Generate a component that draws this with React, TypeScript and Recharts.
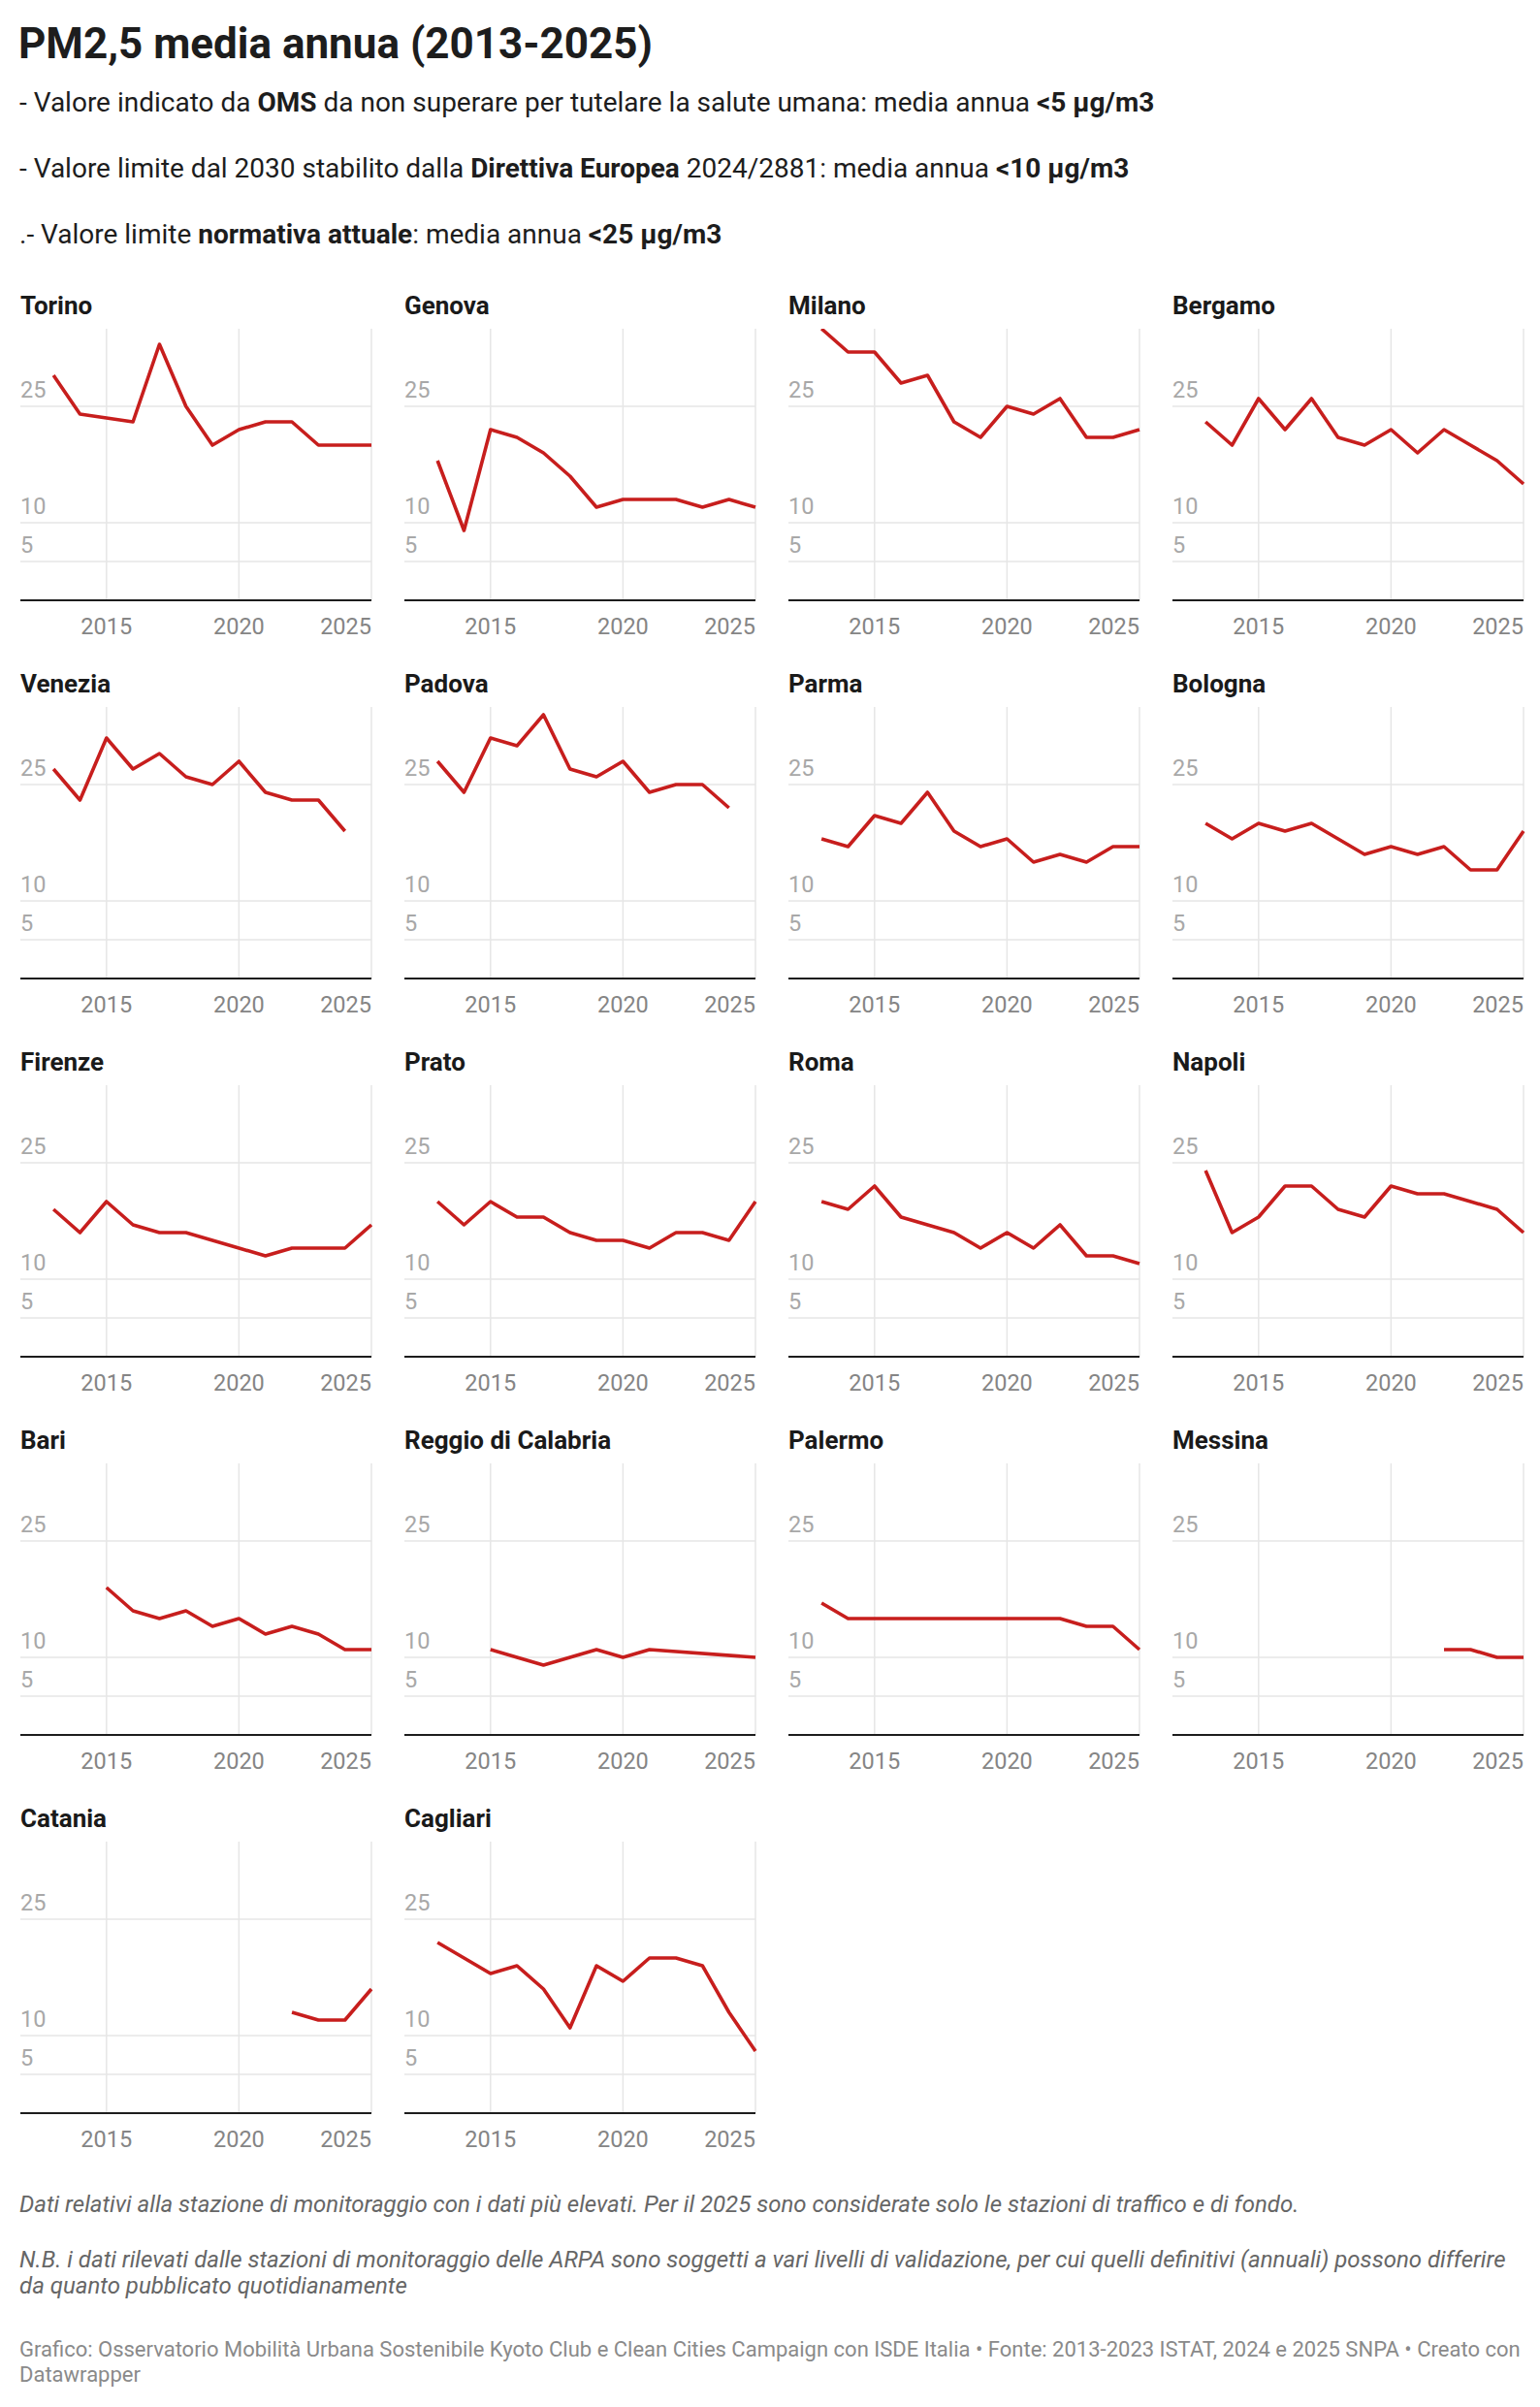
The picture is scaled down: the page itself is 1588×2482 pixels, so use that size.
import { CartesianGrid, Line, LineChart, XAxis, YAxis } from "recharts"

// PM2.5 annual mean per city, µg/m3 (null = no data that year)
const years = [2013, 2014, 2015, 2016, 2017, 2018, 2019, 2020, 2021, 2022, 2023, 2024, 2025]

const torino = [29, 24, 23.5, 23, 33, 25, 20, 22, 23, 23, 20, 20, 20]
const genova = [18, 9, 22, 21, 19, 16, 12, 13, 13, 13, 12, 13, 12]
const milano = [35, 32, 32, 28, 29, 23, 21, 25, 24, 26, 21, 21, 22]
const bergamo = [23, 20, 26, 22, 26, 21, 20, 22, 19, 22, 20, 18, 15]
const venezia = [27, 23, 31, 27, 29, 26, 25, 28, 24, 23, 23, 19, null]
const padova = [28, 24, 31, 30, 34, 27, 26, 28, 24, 25, 25, 22, null]
const parma = [18, 17, 21, 20, 24, 19, 17, 18, 15, 16, 15, 17, 17]
const bologna = [20, 18, 20, 19, 20, 18, 16, 17, 16, 17, 14, 14, 19]
const firenze = [19, 16, 20, 17, 16, 16, 15, 14, 13, 14, 14, 14, 17]
const prato = [20, 17, 20, 18, 18, 16, 15, 15, 14, 16, 16, 15, 20]
const roma = [20, 19, 22, 18, 17, 16, 14, 16, 14, 17, 13, 13, 12]
const napoli = [24, 16, 18, 22, 22, 19, 18, 22, 21, 21, 20, 19, 16]
const bari = [null, null, 19, 16, 15, 16, 14, 15, 13, 14, 13, 11, 11]
const reggioCalabria = [null, null, 11, 10, 9, 10, 11, 10, 11, null, null, null, 10]
const palermo = [17, 15, 15, 15, 15, 15, 15, 15, 15, 15, 14, 14, 11]
const messina = [null, null, null, null, null, null, null, null, null, 11, 11, 10, 10]
const catania = [null, null, null, null, null, null, null, null, null, 13, 12, 12, 16]
const cagliari = [22, 20, 18, 19, 16, 11, 19, 17, 20, 20, 19, 13, 8]

const cities: [string, (number | null)[]][] = [
  ["Torino", torino],
  ["Genova", genova],
  ["Milano", milano],
  ["Bergamo", bergamo],
  ["Venezia", venezia],
  ["Padova", padova],
  ["Parma", parma],
  ["Bologna", bologna],
  ["Firenze", firenze],
  ["Prato", prato],
  ["Roma", roma],
  ["Napoli", napoli],
  ["Bari", bari],
  ["Reggio di Calabria", reggioCalabria],
  ["Palermo", palermo],
  ["Messina", messina],
  ["Catania", catania],
  ["Cagliari", cagliari],
]

const xTicks = [2015, 2020, 2025]
const yTicks = [5, 10, 25]

const FONT = "Roboto, 'Noto Sans', sans-serif"
const RED = "#c71e1d"
const PLOT_W = 362
const PLOT_H = 280
const CHART_W = 396
const X_AXIS_H = 60
const Y_AXIS_W = 40
const COL_LEFT = 21
const COL_PITCH = 396
const FIRST_BASELINE = 619
const ROW_PITCH = 390

function XTick({ x, payload }: any) {
  const last = payload.value === 2025
  return (
    <text
      x={x}
      y={PLOT_H + 35}
      textAnchor={last ? "end" : "middle"}
      fill="#858585"
      fontSize={23.5}
      fontFamily={FONT}
    >
      {payload.value}
    </text>
  )
}

function YTick({ y, payload }: any) {
  return (
    <text x={0} y={y - 9} textAnchor="start" fill="#a8a8a8" fontSize={23.5} fontFamily={FONT}>
      {payload.value}
    </text>
  )
}

function Panel({ name, values, index }: { name: string; values: (number | null)[]; index: number }) {
  const col = index % 4
  const row = Math.floor(index / 4)
  const left = COL_LEFT + col * COL_PITCH
  const baseline = FIRST_BASELINE + row * ROW_PITCH
  const data = years.map((year, i) => ({ year, value: values[i] }))

  return (
    <>
      <div
        style={{
          position: "absolute",
          left,
          top: baseline - 317,
          fontSize: 26,
          lineHeight: "26px",
          fontWeight: 700,
          color: "#1a1a1a",
          whiteSpace: "nowrap",
        }}
      >
        {name}
      </div>
      <div style={{ position: "absolute", left, top: baseline - PLOT_H }}>
        <LineChart
          width={CHART_W}
          height={PLOT_H + X_AXIS_H}
          data={data}
          margin={{ top: 0, right: CHART_W - PLOT_W, bottom: 0, left: -Y_AXIS_W }}
          style={{ overflow: "visible" }}
        >
          <CartesianGrid stroke="#e6e6e6" strokeWidth={1.5} syncWithTicks />
          <XAxis
            dataKey="year"
            type="number"
            domain={[2011.75, 2025]}
            ticks={xTicks}
            interval={0}
            height={X_AXIS_H}
            tickSize={0}
            tickMargin={0}
            tickLine={false}
            axisLine={{ stroke: "#1d1d1d", strokeWidth: 2 }}
            tick={<XTick />}
          />
          <YAxis
            type="number"
            domain={[0, 35]}
            ticks={yTicks}
            interval={0}
            width={Y_AXIS_W}
            axisLine={false}
            tickLine={false}
            tick={<YTick />}
          />
          <Line
            type="linear"
            dataKey="value"
            stroke={RED}
            strokeWidth={3.6}
            strokeLinejoin="round"
            dot={false}
            activeDot={false}
            connectNulls
            isAnimationActive={false}
          />
        </LineChart>
      </div>
    </>
  )
}

const sub = { position: "absolute", left: 20, fontSize: 28, lineHeight: "28px", whiteSpace: "nowrap" } as const

export default function App() {
  return (
    <div
      style={{
        position: "relative",
        width: 1588,
        height: 2482,
        background: "#fff",
        fontFamily: FONT,
        color: "#1d1d1d",
      }}
    >
      <style>{"body{margin:0}"}</style>
      <div
        style={{
          position: "absolute",
          left: 19,
          top: 23,
          fontSize: 44,
          lineHeight: "44px",
          fontWeight: 700,
          whiteSpace: "nowrap",
        }}
      >
        PM2,5 media annua (2013-2025)
      </div>
      <div style={{ ...sub, top: 92 }}>
        - Valore indicato da <b>OMS</b> da non superare per tutelare la salute umana: media annua <b>&lt;5 µg/m3</b>
      </div>
      <div style={{ ...sub, top: 160 }}>
        - Valore limite dal 2030 stabilito dalla <b>Direttiva Europea</b> 2024/2881: media annua <b>&lt;10 µg/m3</b>
      </div>
      <div style={{ ...sub, top: 228 }}>
        .- Valore limite <b>normativa attuale</b>: media annua <b>&lt;25 µg/m3</b>
      </div>

      {cities.map(([name, values], i) => (
        <Panel key={name} name={name} values={values} index={i} />
      ))}

      <div
        style={{
          position: "absolute",
          left: 20,
          top: 2261,
          fontSize: 24,
          lineHeight: "24px",
          fontStyle: "italic",
          color: "#666",
          whiteSpace: "nowrap",
        }}
      >
        Dati relativi alla stazione di monitoraggio con i dati più elevati. Per il 2025 sono considerate solo le stazioni di traffico e di fondo.
      </div>
      <div
        style={{
          position: "absolute",
          left: 20,
          top: 2317,
          fontSize: 24,
          lineHeight: "27px",
          fontStyle: "italic",
          color: "#666",
          whiteSpace: "nowrap",
        }}
      >
        <div>
          N.B. i dati rilevati dalle stazioni di monitoraggio delle ARPA sono soggetti a vari livelli di validazione, per cui quelli definitivi (annuali) possono differire
        </div>
        <div>da quanto pubblicato quotidianamente</div>
      </div>
      <div
        style={{
          position: "absolute",
          left: 20,
          top: 2410,
          fontSize: 22,
          lineHeight: "26px",
          color: "#8a8a8a",
          whiteSpace: "nowrap",
        }}
      >
        <div>
          Grafico: Osservatorio Mobilità Urbana Sostenibile Kyoto Club e Clean Cities Campaign con ISDE Italia • Fonte: 2013-2023 ISTAT, 2024 e 2025 SNPA • Creato con
        </div>
        <div>Datawrapper</div>
      </div>
    </div>
  )
}
